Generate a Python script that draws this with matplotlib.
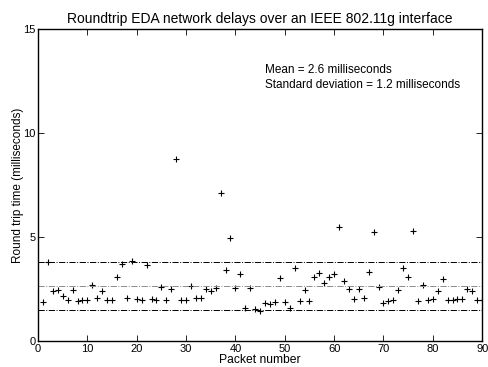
import matplotlib
matplotlib.use('Agg')
import matplotlib.pyplot as plt

plt.rcParams['font.family'] = ['Liberation Sans', 'DejaVu Sans']

packets = list(range(1, 91))
delays = [1.86, 3.80, 2.42, 2.45, 2.16, 1.95, 2.45, 1.92, 1.97, 1.97,
          2.69, 2.08, 2.40, 1.97, 1.97, 3.06, 3.70, 2.05, 3.83, 2.02,
          1.95, 3.65, 2.02, 1.95, 2.60, 1.97, 2.50, 8.75, 1.95, 1.97,
          2.63, 2.05, 2.05, 2.52, 2.42, 2.56, 7.11, 3.43, 4.97, 2.53,
          3.22, 1.59, 2.53, 1.54, 1.43, 1.81, 1.80, 1.85, 3.01, 1.86,
          1.59, 3.53, 1.92, 2.44, 1.92, 3.08, 3.25, 2.77, 3.08, 3.20,
          5.47, 2.87, 2.52, 2.04, 2.52, 2.07, 3.30, 5.22, 2.58, 1.83,
          1.92, 1.95, 2.44, 3.51, 3.09, 5.30, 1.92, 2.69, 1.95, 2.04,
          2.42, 2.96, 1.95, 1.95, 2.00, 2.02, 2.50, 2.40, 1.95, 1.95]
mean_delay = 2.64
std_delay = 1.16
xticks = [0, 10, 20, 30, 40, 50, 60, 70, 80, 90]
yticks = [0, 5, 10, 15]

fig = plt.figure(figsize=(4.88, 3.67), dpi=100)
ax = fig.add_axes([0.078, 0.071, 0.910, 0.850])

ax.plot(packets, delays, '+', color='black', markersize=5, markeredgewidth=0.8)
ax.axhline(mean_delay + std_delay, color='black', linestyle='-.', linewidth=0.7)
ax.axhline(mean_delay, color='0.55', linestyle='-.', linewidth=0.7)
ax.axhline(mean_delay - std_delay, color='black', linestyle='-.', linewidth=0.7)

ax.set_xlim(0, 90)
ax.set_ylim(0, 15)
ax.set_xticks(xticks)
ax.set_yticks(yticks)
ax.tick_params(direction='in', length=4, width=0.6, labelsize=8, pad=2,
               top=True, right=True)
for s in ax.spines.values():
    s.set_linewidth(1.0)

ax.set_title('Roundtrip EDA network delays over an IEEE 802.11g interface',
             fontsize=10, pad=4)
ax.set_xlabel('Packet number', fontsize=8.7, labelpad=0)
ax.set_ylabel('Round trip time (milliseconds)', fontsize=8.5, labelpad=-1)
ax.text(46, 13.05, 'Mean = 2.6 milliseconds', fontsize=8.5, va='center')
ax.text(46, 12.3, 'Standard deviation = 1.2 milliseconds', fontsize=8.5, va='center')

plt.savefig('out.png', dpi=100)
